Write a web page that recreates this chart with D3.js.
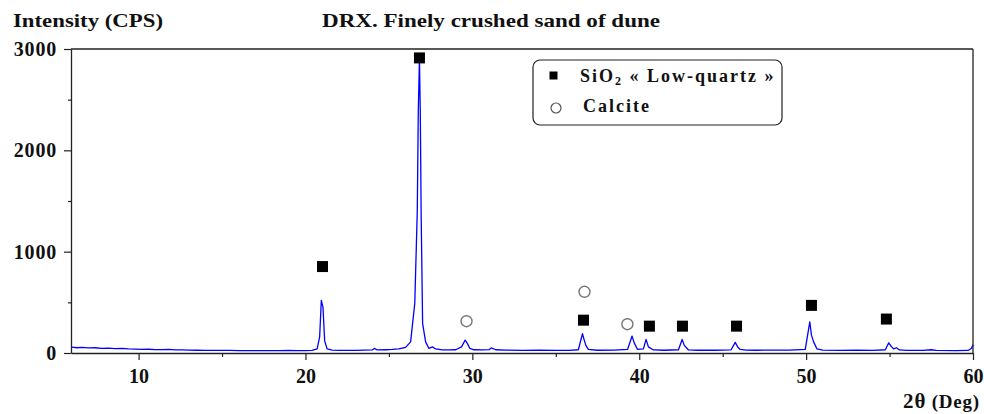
<!DOCTYPE html>
<html>
<head>
<meta charset="utf-8">
<script src="https://cdn.jsdelivr.net/npm/d3@7"></script>
<style>
  html, body { margin: 0; padding: 0; background: #fff; }
  svg { display: block; }
  text { font-family: "Liberation Serif", "DejaVu Serif", serif; font-weight: bold; fill: #111; }
</style>
</head>
<body>
<svg id="chart" width="984" height="414"></svg>
<script>
// ---- data ----
const twoTheta = [
  6.0, 6.3, 6.6, 7.0, 7.4, 7.8, 8.2, 8.6, 9.0, 9.4, 9.8, 10.2, 10.6, 11.0, 11.4, 11.8,
  12.2, 12.6, 13.0, 13.5, 14.0, 14.5, 15.0, 15.5, 16.0, 16.5, 17.0, 17.5, 18.0, 18.5,
  19.0, 19.5, 20.0, 20.4, 20.7, 20.85, 20.95, 21.05, 21.15, 21.3, 21.6, 22.0, 22.5,
  23.0, 23.5, 24.0, 24.13, 24.3, 24.8, 25.2, 25.6, 26.0, 26.3, 26.55, 26.7, 26.76,
  26.83, 26.88, 26.93, 27.02, 27.2, 27.4, 27.61, 27.8, 28.2, 28.6, 29.0, 29.35, 29.57,
  29.7, 29.85, 30.1, 30.6, 31.0, 31.13, 31.4, 32.0, 33.0, 34.0, 35.0, 35.8, 36.35,
  36.6, 36.7, 36.8, 36.95, 37.5, 38.5, 39.3, 39.57, 39.7, 39.9, 40.25, 40.41, 40.55,
  40.85, 41.5, 42.35, 42.57, 42.7, 42.95, 43.5, 44.5, 45.5, 45.75, 45.9, 46.05, 46.4,
  47.0, 48.0, 49.0, 49.95, 50.22, 50.32, 50.45, 50.65, 51.0, 52.0, 53.0, 54.0, 54.75,
  54.95, 55.1, 55.25, 55.41, 55.6, 56.0, 57.0, 57.5, 57.8, 59.0, 59.7, 59.9, 60.0
];
const intensity = [
  58, 52, 55, 50, 52, 46, 48, 44, 45, 40, 38, 36, 37, 34, 33, 35,
  30, 30, 29, 27, 26, 25, 25, 26, 24, 24, 23, 24, 23, 24,
  25, 23, 24, 26, 40, 160, 520, 450, 120, 40, 28, 25, 25,
  26, 28, 30, 45, 30, 32, 35, 40, 55, 110, 490, 1400, 2380,
  2900, 2380, 1400, 290, 110, 45, 60, 40, 30, 30, 32, 60, 127,
  95, 45, 32, 30, 33, 50, 32, 28, 26, 27, 26, 26, 32,
  190, 130, 75, 35, 27, 28, 35, 167, 100, 35, 40, 134, 60,
  30, 27, 32, 134, 75, 30, 27, 27, 30, 105, 60, 35, 28,
  27, 29, 28, 35, 307, 176, 110, 40, 28, 26, 27, 26, 32,
  101, 65, 40, 52, 30, 26, 25, 32, 25, 24, 25, 45, 80
];

// phase markers
const quartzTheta = [21.02, 26.83, 36.66, 40.61, 42.59, 45.83, 50.32, 54.81];
const quartzLevel = [853, 2912, 324, 265, 265, 265, 470, 335];
const calciteTheta = [29.65, 36.72, 39.29];
const calciteLevel = [314, 604, 284];

const xTicksMajor = [10, 20, 30, 40, 50, 60];
const xTicksMinor = [15, 25, 35, 45, 55];
const yTicksMajor = [0, 1000, 2000, 3000];
const yTicksMinor = [500, 1500, 2500];

const legendLabels = ["SiO\u2082 \u00AB Low-quartz \u00BB", "Calcite"];

// ---- chart ----
const svg = d3.select("#chart");
const mLeft = 71, mRight = 973, mTop = 49, mBottom = 353;

const x = d3.scaleLinear().domain([5.95, 60]).range([mLeft, mRight]);
const y = d3.scaleLinear().domain([0, 3000]).range([mBottom, mTop]);

// frame (top and right)
svg.append("line").attr("x1", mLeft).attr("x2", mRight).attr("y1", mTop).attr("y2", mTop)
  .attr("stroke", "#222").attr("stroke-width", 1.3);
svg.append("line").attr("x1", mRight).attr("x2", mRight).attr("y1", mTop).attr("y2", mBottom)
  .attr("stroke", "#222").attr("stroke-width", 1.3);

// x axis
const xAxis = svg.append("g").attr("transform", `translate(0,${mBottom})`)
  .call(d3.axisBottom(x).tickValues(xTicksMajor).tickSize(7).tickSizeOuter(0).tickFormat(d3.format("d")));
svg.append("g").attr("transform", `translate(0,${mBottom})`)
  .call(d3.axisBottom(x).tickValues(xTicksMinor).tickSize(4).tickSizeOuter(0).tickFormat(""))
  .call(g => g.select(".domain").remove());

// y axis
const yAxis = svg.append("g").attr("transform", `translate(${mLeft},0)`)
  .call(d3.axisLeft(y).tickValues(yTicksMajor).tickSize(7).tickSizeOuter(0).tickFormat(d3.format("d")));
svg.append("g").attr("transform", `translate(${mLeft},0)`)
  .call(d3.axisLeft(y).tickValues(yTicksMinor).tickSize(3).tickSizeOuter(0).tickFormat(""))
  .call(g => g.select(".domain").remove());

svg.selectAll(".domain").attr("stroke", "#222").attr("stroke-width", 1.3);
svg.selectAll(".tick line").attr("stroke", "#222").attr("stroke-width", 1.2);

xAxis.selectAll(".tick text")
  .attr("y", 16).attr("dy", "0.71em")
  .style("font-family", "'Liberation Serif', serif").style("font-weight", "bold")
  .style("font-size", "20px").attr("fill", "#111");
yAxis.selectAll(".tick text")
  .attr("x", -14)
  .style("font-family", "'Liberation Serif', serif").style("font-weight", "bold")
  .style("font-size", "20px").style("letter-spacing", "0.8px").attr("fill", "#111");

// spectrum
const pts = twoTheta.map((t, i) => [t, intensity[i]]);
svg.append("path")
  .datum(pts)
  .attr("fill", "none")
  .attr("stroke", "#0000ff")
  .attr("stroke-width", 1.3)
  .attr("stroke-linejoin", "round")
  .attr("d", d3.line().x(d => x(d[0])).y(d => y(d[1])));

// markers
const sq = 11;
svg.append("g").selectAll("rect")
  .data(quartzTheta.map((t, i) => [t, quartzLevel[i]]))
  .join("rect")
  .attr("x", d => x(d[0]) - sq / 2).attr("y", d => y(d[1]) - sq / 2)
  .attr("width", sq).attr("height", sq).attr("fill", "#000");
svg.append("g").selectAll("circle")
  .data(calciteTheta.map((t, i) => [t, calciteLevel[i]]))
  .join("circle")
  .attr("cx", d => x(d[0])).attr("cy", d => y(d[1])).attr("r", 5.5)
  .attr("fill", "#fff").attr("stroke", "#777").attr("stroke-width", 1.4);

// titles
svg.append("text").attr("x", 13).attr("y", 27).style("font-size", "19px")
  .attr("textLength", 150).attr("lengthAdjust", "spacingAndGlyphs")
  .text("Intensity  (CPS)");
svg.append("text").attr("x", 322).attr("y", 27).style("font-size", "19px")
  .attr("textLength", 338).attr("lengthAdjust", "spacingAndGlyphs")
  .text("DRX. Finely crushed sand of dune");
const xl = svg.append("text").attr("x", 980).attr("y", 408).attr("text-anchor", "end")
  .style("font-size", "19px").style("letter-spacing", "0.8px");
xl.append("tspan").style("font-size", "21px").text("2\u03B8");
xl.append("tspan").text(" (Deg)");

// legend
const lg = svg.append("g");
lg.append("rect").attr("x", 533).attr("y", 60).attr("width", 249).attr("height", 65)
  .attr("rx", 7).attr("fill", "#fff").attr("stroke", "#222").attr("stroke-width", 1.2);
lg.append("rect").attr("x", 549.5).attr("y", 71.5).attr("width", 8).attr("height", 8).attr("fill", "#000");
lg.append("circle").attr("cx", 556).attr("cy", 108).attr("r", 5)
  .attr("fill", "#fff").attr("stroke", "#555").attr("stroke-width", 1.2);
const l1 = lg.append("text").attr("x", 580).attr("y", 82).style("font-size", "18px")
  .style("letter-spacing", "2px");
l1.append("tspan").text("SiO");
l1.append("tspan").style("font-size", "12px").attr("dy", 3).text("2");
l1.append("tspan").attr("dy", -3).text(" \u00AB Low-quartz \u00BB");
lg.append("text").attr("x", 583).attr("y", 112).style("font-size", "18px")
  .style("letter-spacing", "2px").text(legendLabels[1]);
</script>
</body>
</html>
